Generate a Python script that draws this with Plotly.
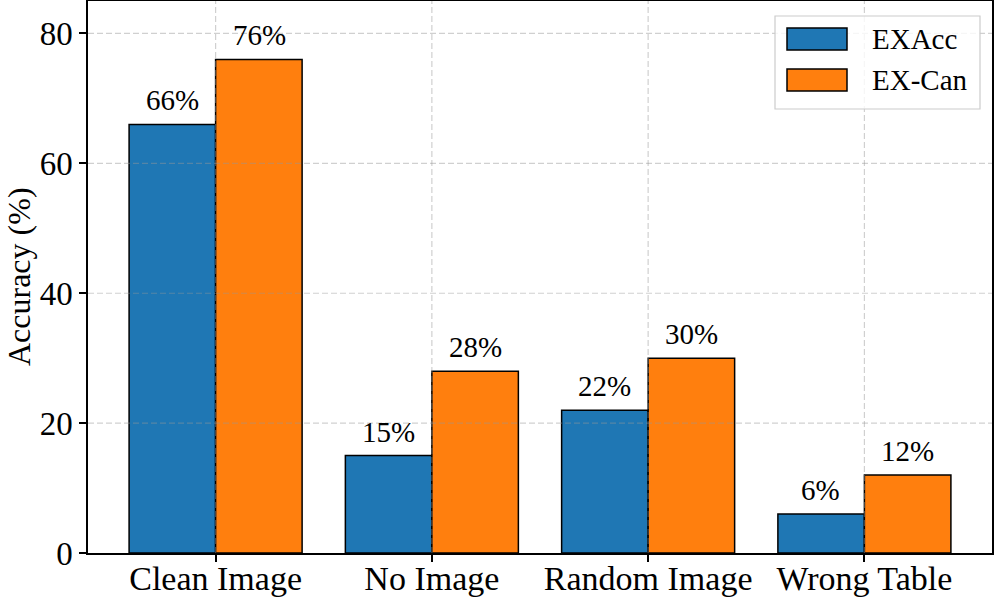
import plotly.graph_objects as go

# data
categories = ["Clean Image", "No Image", "Random Image", "Wrong Table"]
exacc = [66, 15, 22, 6]
excan = [76, 28, 30, 12]
series_names = ["EXAcc", "EX-Can"]
colors = ["#1f77b4", "#ff7f0e"]
y_ticks = [0, 20, 40, 60, 80]

FONT = "Liberation Serif, Times New Roman, serif"

fig = go.Figure()
annotations = []
for k, (name, vals, col) in enumerate(zip(series_names, [exacc, excan], colors)):
    fig.add_trace(go.Bar(
        x=categories, y=vals, name=name,
        marker=dict(color=col, line=dict(color="black", width=1.5)),
        showlegend=False,
    ))
    # value labels above each bar
    for c, v in zip(categories, vals):
        annotations.append(dict(x=c, y=v, xref="x", yref="y", text=f"{v}%",
                                showarrow=False, yanchor="bottom",
                                xshift=(-43.5 if k == 0 else 43.5), yshift=6,
                                font=dict(family=FONT, size=29, color="black")))

# y axis title
annotations.append(dict(xref="paper", yref="paper", x=0, y=0.5, xshift=-69,
                        xanchor="center", yanchor="middle",
                        text="Accuracy (%)", textangle=-90, showarrow=False,
                        font=dict(family=FONT, size=32, color="black")))

# grid lines drawn above the bars (as in the original)
grid_style = dict(color="rgba(150,150,150,0.45)", width=1.2, dash="6px,3px")
shapes = []
for t in y_ticks[1:]:
    shapes.append(dict(type="line", xref="paper", yref="y", x0=0, x1=1, y0=t, y1=t,
                       line=grid_style, layer="above"))
for c in categories:
    shapes.append(dict(type="line", xref="x", yref="paper", x0=c, x1=c, y0=0, y1=1,
                       line=grid_style, layer="above"))

# legend box, drawn by hand for the wide matplotlib-style swatches
shapes.append(dict(type="rect", xref="paper", yref="paper",
                   x0=(775 - 88) / 904, x1=(980 - 88) / 904,
                   y0=(553 - 109) / 552, y1=(553 - 16) / 552,
                   line=dict(color="rgba(204,204,204,1)", width=1.2),
                   fillcolor="rgba(255,255,255,0.8)", layer="above"))
for i, (name, col) in enumerate(zip(series_names, colors)):
    cy = 39 + i * 41
    shapes.append(dict(type="rect", xref="paper", yref="paper",
                       x0=(787 - 88) / 904, x1=(847 - 88) / 904,
                       y0=(553 - cy - 11) / 552, y1=(553 - cy + 11) / 552,
                       line=dict(color="black", width=1.5), fillcolor=col, layer="above"))
    annotations.append(dict(xref="paper", yref="paper", x=(870 - 88) / 904,
                            y=(553 - cy) / 552, xanchor="left", yanchor="middle",
                            text=name, showarrow=False,
                            font=dict(family=FONT, size=29, color="black")))

fig.update_layout(
    width=996, height=599,
    margin=dict(l=88, r=4, t=1, b=46),
    plot_bgcolor="white", paper_bgcolor="white",
    barmode="group", bargap=0.2, bargroupgap=0,
    font=dict(family=FONT, size=32, color="black"),
    shapes=shapes, annotations=annotations,
    xaxis=dict(range=[-0.59, 3.59], showgrid=False, showline=True, linecolor="black",
               linewidth=1.5, mirror=True, ticks="outside", ticklen=7, tickwidth=1.5,
               tickcolor="black", tickfont=dict(size=34), automargin=False,
               ticklabelstandoff=-13),
    yaxis=dict(range=[0, 85], tickvals=y_ticks, showgrid=False, zeroline=False,
               showline=True, linecolor="black", linewidth=1.5, mirror=True,
               ticks="outside", ticklen=7, tickwidth=1.5, tickcolor="black",
               tickfont=dict(size=33), automargin=False),
)

fig.write_html("out.html", config={"displayModeBar": False},
               post_script="document.body.style.margin='0';")
